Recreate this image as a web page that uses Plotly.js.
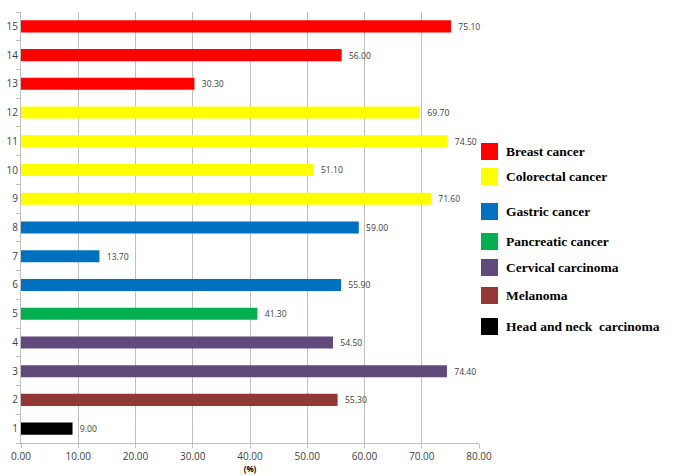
<!DOCTYPE html>
<html>
<head>
<meta charset="utf-8">
<script src="https://cdn.plot.ly/plotly-3.0.1.min.js"></script>
<style>html,body{margin:0;padding:0;background:#fff;}#chart{width:673px;height:476px;}</style>
</head>
<body>
<div id="chart"></div>
<script>
const categories = ["1","2","3","4","5","6","7","8","9","10","11","12","13","14","15"];
const values = [9.00, 55.30, 74.40, 54.50, 41.30, 55.90, 13.70, 59.00, 71.60, 51.10, 74.50, 69.70, 30.30, 56.00, 75.10];
const cancerTypes = ["Head and neck carcinoma","Melanoma","Cervical carcinoma","Cervical carcinoma","Pancreatic cancer","Gastric cancer","Gastric cancer","Gastric cancer","Colorectal cancer","Colorectal cancer","Colorectal cancer","Colorectal cancer","Breast cancer","Breast cancer","Breast cancer"];
const legendNames = ["Breast cancer","Colorectal cancer","Gastric cancer","Pancreatic cancer","Cervical carcinoma","Melanoma","Head and neck  carcinoma"];
const legendKeys = ["Breast cancer","Colorectal cancer","Gastric cancer","Pancreatic cancer","Cervical carcinoma","Melanoma","Head and neck carcinoma"];
const legendColors = ["#FF0000","#FFFF00","#0070C0","#00B050","#604A7B","#953735","#000000"];
const xTicks = [0,10,20,30,40,50,60,70,80];
const xTickLabels = ["0.00","10.00","20.00","30.00","40.00","50.00","60.00","70.00","80.00"];

const colorOf = {};
legendKeys.forEach((k,i)=>colorOf[k]=legendColors[i]);
const barColors = cancerTypes.map(t=>colorOf[t]);

const trace = {
  type:'bar', orientation:'h',
  x: values, y: categories,
  width: 0.42,
  marker:{color: barColors, line:{width:0}},
  text: values.map(v=>'\u2002'+v.toFixed(2)),
  textposition:'outside',
  cliponaxis:false,
  textfont:{family:'Open Sans, Liberation Sans, sans-serif', size:10, color:'#404040'},
  hoverinfo:'none'
};

const legendY = [151, 176, 211, 241, 267, 295, 326];
const shapes = [];
const annotations = [];
legendNames.forEach((n,i)=>{
  const yc = legendY[i];
  shapes.push({type:'rect', xref:'paper', yref:'paper',
    x0:(481-21)/458, x1:(498-21)/458,
    y0:(443-(yc+9))/431, y1:(443-(yc-8))/431,
    fillcolor:legendColors[i], line:{width:0}});
  annotations.push({xref:'paper', yref:'paper', x:(504-21)/458, y:(443-yc)/431,
    xanchor:'left', yanchor:'middle', showarrow:false, text:'<b>'+n.replace(/  /g,'&nbsp; ')+'</b>',
    font:{family:'Liberation Serif, Times New Roman, serif', size:13.5, color:'#000'}});
});

const layout = {
  width:673, height:476,
  margin:{l:21, r:194, t:12, b:33},
  paper_bgcolor:'#fff', plot_bgcolor:'#fff',
  showlegend:false,
  font:{family:'Open Sans, Liberation Sans, sans-serif', size:9, color:'#404040'},
  xaxis:{
    range:[0,80], tickvals:xTicks, ticktext:xTickLabels,
    showgrid:true, gridcolor:'#BFBFBF', gridwidth:1,
    zeroline:false, showline:true, linecolor:'#BFBFBF', linewidth:1,
    ticks:'outside', ticklen:4, tickcolor:'#BFBFBF',
    tickfont:{size:10, color:'#404040'},
    title:{text:'<b>(%)</b>', font:{size:8, color:'#000'}, standoff:2}
  },
  yaxis:{
    type:'category', categoryorder:'array', categoryarray:categories,
    range:[-0.5,14.5],
    showgrid:false, zeroline:false, showline:true, linecolor:'#BFBFBF', linewidth:1,
    ticks:'outside', tickson:'boundaries', ticklen:4, tickcolor:'#BFBFBF',
    tickfont:{size:10, color:'#404040'}
  },
  shapes:shapes,
  annotations:annotations
};

Plotly.newPlot('chart',[trace],layout,{staticPlot:true, displayModeBar:false});
</script>
</body>
</html>
